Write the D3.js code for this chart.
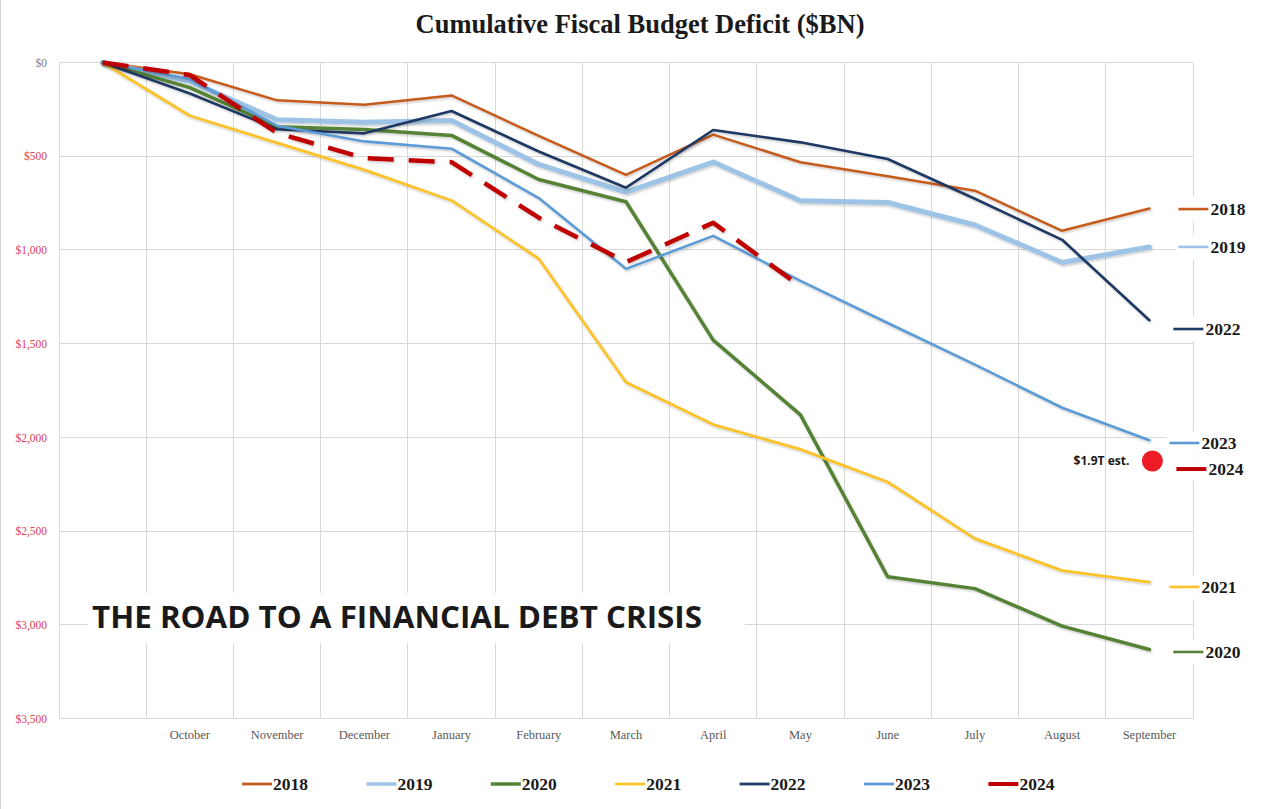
<!DOCTYPE html>
<html>
<head>
<meta charset="utf-8">
<script src="https://cdn.jsdelivr.net/npm/d3@7"></script>
<style>
  html, body { margin: 0; padding: 0; background: #fff; }
  svg { display: block; }
</style>
</head>
<body>
<svg id="chart" width="1280" height="809"></svg>
<script>
// ---------- DATA ----------
const categories = ["", "October", "November", "December", "January", "February", "March",
                    "April", "May", "June", "July", "August", "September"];
const years = ["2018", "2019", "2020", "2021", "2022", "2023", "2024"];
const values2018 = [0, 63, 202, 225, 176, 391, 600, 385, 532, 607, 684, 898, 779];
const values2019 = [0, 100, 305, 319, 310, 544, 691, 531, 738, 747, 867, 1067, 984];
const values2020 = [0, 134, 343, 357, 389, 624, 743, 1481, 1880, 2744, 2807, 3007, 3132];
const values2021 = [0, 284, 429, 573, 736, 1047, 1706, 1932, 2064, 2238, 2540, 2711, 2772];
const values2022 = [0, 165, 356, 378, 259, 475, 668, 360, 426, 515, 727, 946, 1375];
const values2023 = [0, 88, 337, 421, 460, 723, 1101, 925, 1165, 1390, 1612, 1842, 2015];
const values2024 = [0, 67, 376, 510, 532, 828, 1065, 855, 1195];
const seriesValues = [values2018, values2019, values2020, values2021, values2022, values2023, values2024];
const endLabelValues = [782, 984, 3145, 2798, 1422, 2030, 2169];
const yTicks = [0, 500, 1000, 1500, 2000, 2500, 3000, 3500];
const estimateValue = 2126;          // "$1.9T est." marker, at September
const estimateLabel = "$1.9T est.";
const title = "Cumulative Fiscal Budget Deficit ($BN)";
const banner = "THE ROAD TO A FINANCIAL DEBT CRISIS";

// ---------- STYLE ----------
const colors = ["#c65b1f", "#9dc3e6", "#548235", "#fcc22a", "#1f3864", "#5b9bd5", "#c00000"];
const widths = [2.5, 5, 3.5, 2.8, 2.6, 2.6, 4.5];
const labelDx = [4, 4, -1, -5, -1, -5, 2];

const svg = d3.select("#chart");
const W = 1280, H = 809;
const plot = { left: 59, right: 1193, top: 62.5, bottom: 718.5 };

const x = d3.scaleBand().domain(categories).range([plot.left, plot.right]).paddingInner(0).paddingOuter(0);
const y = d3.scaleLinear().domain([0, 3500]).range([plot.top, plot.bottom]);
const cx = c => x(c) + x.bandwidth() / 2;

// shadow filter
const defs = svg.append("defs");
const f = defs.append("filter").attr("id", "shadow").attr("x", "-5%").attr("y", "-5%").attr("width", "110%").attr("height", "120%");
f.append("feDropShadow").attr("dx", 1).attr("dy", 1.5).attr("stdDeviation", 1.2)
  .attr("flood-color", "#000").attr("flood-opacity", 0.22);

// page border
svg.append("line").attr("x1", 0.5).attr("x2", 0.5).attr("y1", 0).attr("y2", H)
  .attr("stroke", "#d0d0d0").attr("stroke-width", 1);

// title
svg.append("text").attr("x", 640).attr("y", 33).attr("text-anchor", "middle")
  .attr("font-family", "'Liberation Serif', serif").attr("font-weight", "bold")
  .attr("font-size", 26.5).attr("fill", "#1a1a1a").text(title);

// gridlines
const grid = svg.append("g").attr("stroke", "#d9d9d9").attr("stroke-width", 1).attr("shape-rendering", "crispEdges");
yTicks.forEach(t => {
  grid.append("line").attr("x1", plot.left).attr("x2", plot.right).attr("y1", y(t)).attr("y2", y(t));
});
categories.forEach(c => {
  grid.append("line").attr("x1", x(c)).attr("x2", x(c)).attr("y1", plot.top).attr("y2", plot.bottom);
});
grid.append("line").attr("x1", plot.right).attr("x2", plot.right).attr("y1", plot.top).attr("y2", plot.bottom);

// y axis labels
const yAxis = d3.axisLeft(y).tickValues(yTicks).tickSize(0).tickPadding(0)
  .tickFormat(d => "$" + d3.format(",")(d));
const yg = svg.append("g").attr("transform", `translate(${plot.left - 12},0)`).call(yAxis);
yg.select(".domain").remove();
yg.selectAll("text")
  .attr("font-family", "'Liberation Serif', serif").attr("font-size", 11.5)
  .attr("fill", d => d === 0 ? "#7f7f7f" : "#e0404f");

// x axis labels
const xAxis = d3.axisBottom(x).tickSize(0).tickPadding(0);
const xg = svg.append("g").attr("transform", `translate(0,${plot.bottom + 12})`).call(xAxis);
xg.select(".domain").remove();
xg.selectAll("text")
  .attr("font-family", "'Liberation Serif', serif").attr("font-size", 12.5)
  .attr("fill", "#595959");

// banner (white box + text)
svg.append("rect").attr("x", 88).attr("y", 593).attr("width", 657).attr("height", 50).attr("fill", "#fff");
svg.append("text").attr("x", 92).attr("y", 628)
  .attr("font-family", "'Open Sans', sans-serif").attr("font-weight", "bold")
  .attr("font-size", 31).attr("fill", "#1a1a1a")
  .attr("textLength", 610).attr("lengthAdjust", "spacingAndGlyphs")
  .text(banner);

// lines
const line = d3.line().x((d, i) => cx(categories[i])).y(d => y(d));
const lines = svg.append("g").attr("fill", "none").attr("stroke-linejoin", "round");
years.forEach((yr, k) => {
  const p = lines.append("path").datum(seriesValues[k])
    .attr("d", line)
    .attr("stroke", colors[k])
    .attr("stroke-width", widths[k])
    .attr("filter", "url(#shadow)");
  if (yr === "2024") {
    p.attr("stroke-dasharray", "26,15").attr("stroke-linecap", "butt");
  } else {
    p.attr("stroke-linecap", "round");
  }
});

// end labels
const lastCat = categories[categories.length - 1];
years.forEach((yr, k) => {
  const ly = y(endLabelValues[k]);
  const x0 = cx(lastCat) + 25 + labelDx[k];
  const g = svg.append("g");
  g.append("rect").attr("x", x0 - 3).attr("y", ly - 12).attr("width", 72).attr("height", 24).attr("fill", "#fff");
  g.append("line").attr("x1", x0).attr("x2", x0 + 30).attr("y1", ly).attr("y2", ly)
    .attr("stroke", colors[k]).attr("stroke-width", yr === "2024" ? 4 : 2.6);
  g.append("text").attr("x", x0 + 32).attr("y", ly + 6)
    .attr("font-family", "'Liberation Serif', serif").attr("font-weight", "bold")
    .attr("font-size", 17.5).attr("fill", "#1a1a1a").text(yr);
});

// estimate marker
svg.append("circle").attr("cx", cx(lastCat) + 3).attr("cy", y(estimateValue)).attr("r", 10.5)
  .attr("fill", "#ee1c25");
svg.append("text").attr("x", cx(lastCat) - 20).attr("y", y(estimateValue) + 4.5)
  .attr("text-anchor", "end")
  .attr("font-family", "'Open Sans', sans-serif").attr("font-weight", "bold")
  .attr("font-size", 12).attr("fill", "#1a1a1a").text(estimateLabel);

// legend
const legend = svg.append("g").attr("transform", "translate(242,784)");
years.forEach((yr, k) => {
  const g = legend.append("g").attr("transform", `translate(${k * 124.4},0)`);
  g.append("line").attr("x1", 0).attr("x2", 30).attr("y1", 0).attr("y2", 0)
    .attr("stroke", colors[k]).attr("stroke-width", yr === "2024" ? 4 : (yr === "2019" || yr === "2020" ? 3.5 : 2.8));
  g.append("text").attr("x", 31).attr("y", 6)
    .attr("font-family", "'Liberation Serif', serif").attr("font-weight", "bold")
    .attr("font-size", 17.5).attr("fill", "#1a1a1a").text(yr);
});
</script>
</body>
</html>
